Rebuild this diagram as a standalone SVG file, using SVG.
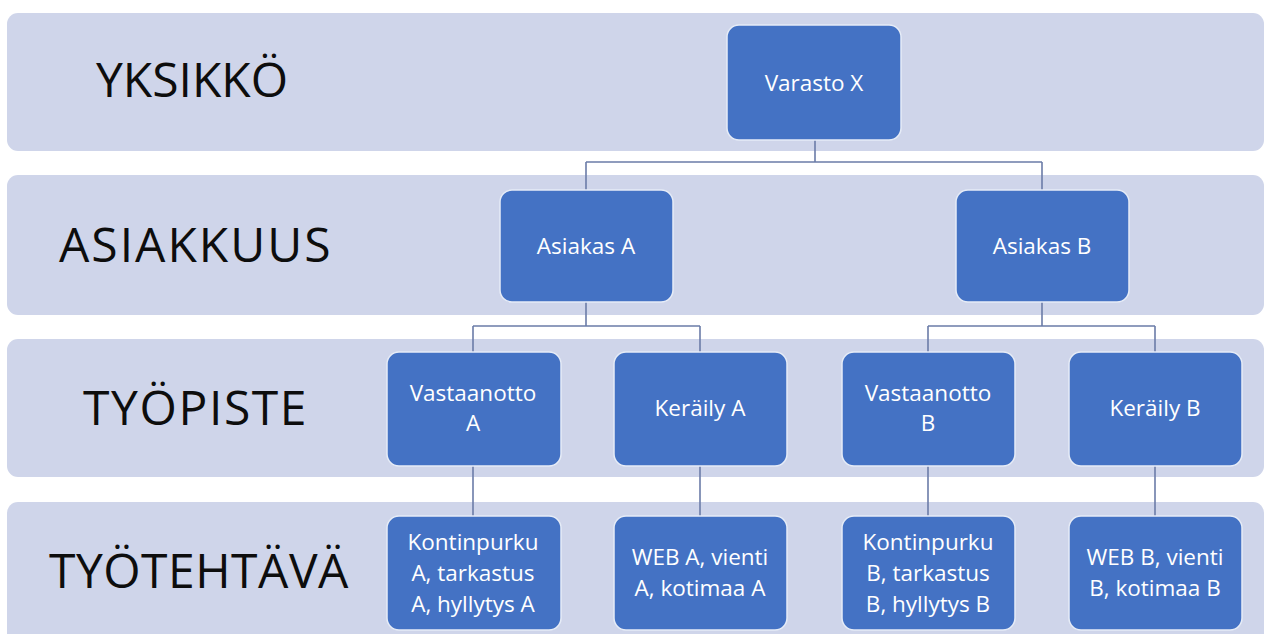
<svg xmlns="http://www.w3.org/2000/svg" width="1266" height="634" viewBox="0 0 1266 634">
  <style>
    .band { fill: #CFD5EA; }
    .lvl { font-family: "Open Sans", "Liberation Sans", sans-serif; font-size: 48px; fill: #0d0d0d; }
    .box { fill: #4472C4; stroke: #E6ECF7; stroke-width: 1.5; }
    .txt { font-family: "Open Sans", "Liberation Sans", sans-serif; font-size: 22.5px; font-weight: 500; fill: #ffffff; text-anchor: middle; }
    .wire { fill: none; stroke: #6B7CA8; stroke-width: 1.6; }
  </style>

  <!-- level bands -->
  <g id="bands">
    <rect class="band" x="7" y="13" width="1257" height="138" rx="11"/>
    <rect class="band" x="7" y="175" width="1257" height="140" rx="11"/>
    <rect class="band" x="7" y="339" width="1257" height="138" rx="11"/>
    <rect class="band" x="7" y="502" width="1257" height="145" rx="11"/>
  </g>

  <!-- level labels -->
  <g id="level-labels">
    <text class="lvl" x="96" y="97">YKSIKKÖ</text>
    <text class="lvl" x="59" y="262" letter-spacing="2">ASIAKKUUS</text>
    <text class="lvl" x="83" y="425" letter-spacing="1.6">TYÖPISTE</text>
    <text class="lvl" x="49" y="588" letter-spacing="0.5">TYÖTEHTÄVÄ</text>
  </g>

  <!-- connectors -->
  <g id="connectors">
    <path class="wire" d="M815 140 V162 M586 162 H1042 M586 162 V190 M1042 162 V190"/>
    <path class="wire" d="M586 302 V326 M473 326 H700 M473 326 V352 M700 326 V352"/>
    <path class="wire" d="M1042 302 V326 M928 326 H1155 M928 326 V352 M1155 326 V352"/>
    <path class="wire" d="M473 466 V516 M700 466 V516 M928 466 V516 M1155 466 V516"/>
  </g>

  <g id="varasto-x">
    <rect class="box" x="727" y="25" width="174" height="115" rx="12"/>
    <text class="txt" x="814" y="91">Varasto X</text>
  </g>

  <g id="asiakas-a">
    <rect class="box" x="500" y="190" width="173" height="112" rx="12"/>
    <text class="txt" x="586" y="254">Asiakas A</text>
  </g>
  <g id="asiakas-b">
    <rect class="box" x="956" y="190" width="173" height="112" rx="12"/>
    <text class="txt" x="1042" y="254">Asiakas B</text>
  </g>

  <g id="vastaanotto-a">
    <rect class="box" x="387" y="352" width="174" height="114" rx="12"/>
    <text class="txt" x="473" y="401">Vastaanotto</text>
    <text class="txt" x="473" y="431">A</text>
  </g>
  <g id="keraily-a">
    <rect class="box" x="614" y="352" width="173" height="114" rx="12"/>
    <text class="txt" x="700" y="416">Keräily A</text>
  </g>
  <g id="vastaanotto-b">
    <rect class="box" x="842" y="352" width="173" height="114" rx="12"/>
    <text class="txt" x="928" y="401">Vastaanotto</text>
    <text class="txt" x="928" y="431">B</text>
  </g>
  <g id="keraily-b">
    <rect class="box" x="1069" y="352" width="173" height="114" rx="12"/>
    <text class="txt" x="1155" y="416">Keräily B</text>
  </g>

  <g id="tehtavat-vastaanotto-a">
    <rect class="box" x="387" y="516" width="174" height="114" rx="12"/>
    <text class="txt" x="473" y="550">Kontinpurku</text>
    <text class="txt" x="473" y="581">A, tarkastus</text>
    <text class="txt" x="473" y="612">A, hyllytys A</text>
  </g>
  <g id="tehtavat-keraily-a">
    <rect class="box" x="614" y="516" width="173" height="114" rx="12"/>
    <text class="txt" x="700" y="565">WEB A, vienti</text>
    <text class="txt" x="700" y="596">A, kotimaa A</text>
  </g>
  <g id="tehtavat-vastaanotto-b">
    <rect class="box" x="842" y="516" width="173" height="114" rx="12"/>
    <text class="txt" x="928" y="550">Kontinpurku</text>
    <text class="txt" x="928" y="581">B, tarkastus</text>
    <text class="txt" x="928" y="612">B, hyllytys B</text>
  </g>
  <g id="tehtavat-keraily-b">
    <rect class="box" x="1069" y="516" width="173" height="114" rx="12"/>
    <text class="txt" x="1155" y="565">WEB B, vienti</text>
    <text class="txt" x="1155" y="596">B, kotimaa B</text>
  </g>
</svg>
